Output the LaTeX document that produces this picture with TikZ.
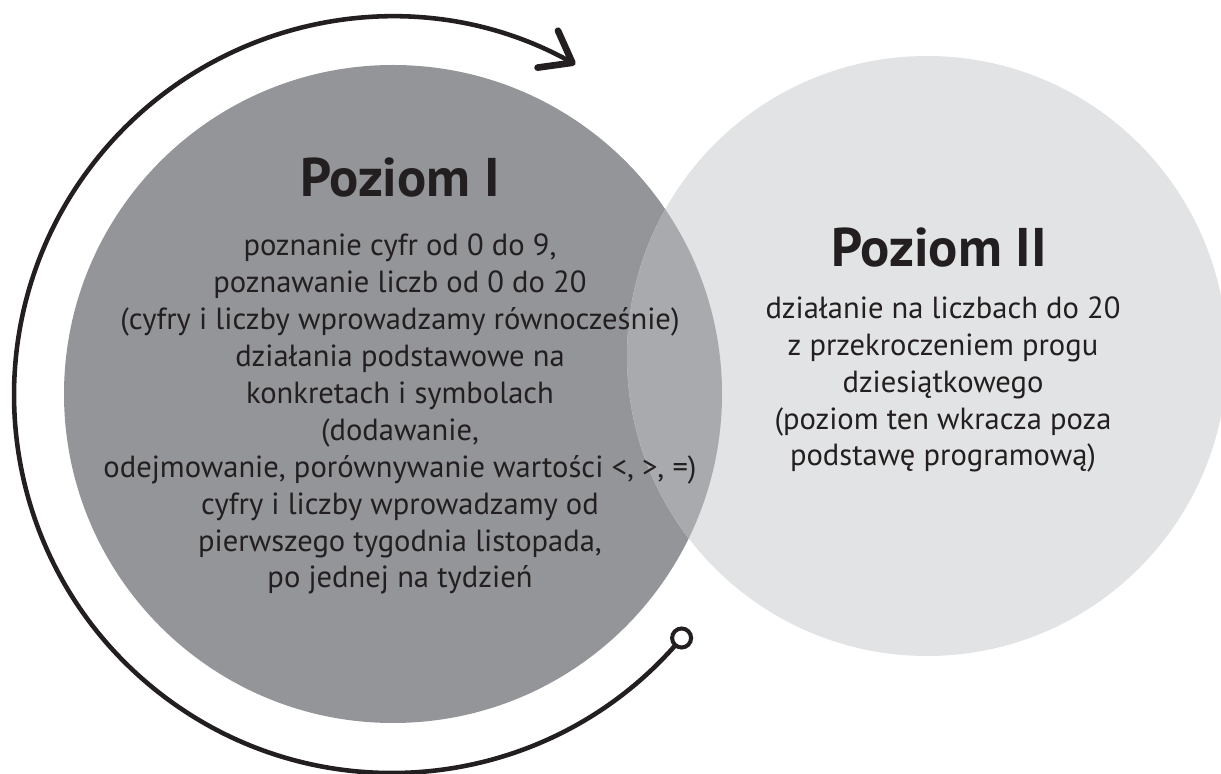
\documentclass[tikz,border=0pt]{standalone}
\usepackage{fontspec}
\setmainfont{PT Sans}
\usetikzlibrary{arrows.meta,positioning}

\begin{document}
\begin{tikzpicture}[x=0.02cm,y=0.02cm]
    % Define colors
    \definecolor{darkgrey}{RGB}{147,149,152}
    \definecolor{lightgrey}{RGB}{226,227,228}
    \definecolor{midgrey}{RGB}{168,170,173}
    \definecolor{inkgrey}{RGB}{35,31,32}
    \tikzset{
        title/.style={font=\fontsize{31}{37}\selectfont\bfseries, text=inkgrey, inner sep=0pt},
        body/.style={font=\fontsize{17.4}{21}\selectfont, text=inkgrey, align=center, inner sep=0pt},
        cycle/.style={line width=2.6pt, draw=inkgrey, line cap=round}
    }

    \useasboundingbox (0,0) rectangle (1221,774);
    \clip (0,0) rectangle (1221,774);

    % Draw circles
    \coordinate (C1) at (393,380);
    \coordinate (C2) at (927,418);
    \fill[darkgrey] (C1) circle[radius=329];
    \fill[lightgrey] (C2) circle[radius=300];
    \begin{scope}
        \clip (C1) circle[radius=329];
        \fill[midgrey] (C2) circle[radius=300];
    \end{scope}

    % Add text (base = last line)
    \node[title, anchor=base] (T1) at (400,577) {Poziom I};
    \node[body, anchor=base] (B1) at (400,186) {poznanie cyfr od 0 do 9,\\
        poznawanie liczb od 0 do 20\\
        (cyfry i liczby wprowadzamy równocześnie)\\
        działania podstawowe na\\
        konkretach i symbolach\\
        (dodawanie,\\
        odejmowanie, porównywanie wartości <, >, =)\\
        cyfry i liczby wprowadzamy od\\
        pierwszego tygodnia listopada,\\
        po jednej na tydzień};
    \node[title, anchor=base] (T2) at (939,507) {Poziom II};
    \node[body, anchor=base] (B2) at (943,308) {działanie na liczbach do 20\\
        z przekroczeniem progu\\
        dziesiątkowego\\
        (poziom ten wkracza poza\\
        podstawę programową)};

    % Draw cycle arrow
    \coordinate (ring) at (681.6,136.0);
    \draw[cycle, -{Straight Barb[length=16pt, width=24pt, line width=3.8pt, round]}]
        (ring) arc[start angle=-40, end angle=-299, radius=378];
    \node[circle, draw=inkgrey, line width=2.3pt, fill=white, minimum size=0.38cm, inner sep=0pt] (ringend) at (ring) {};
\end{tikzpicture}
\end{document}
